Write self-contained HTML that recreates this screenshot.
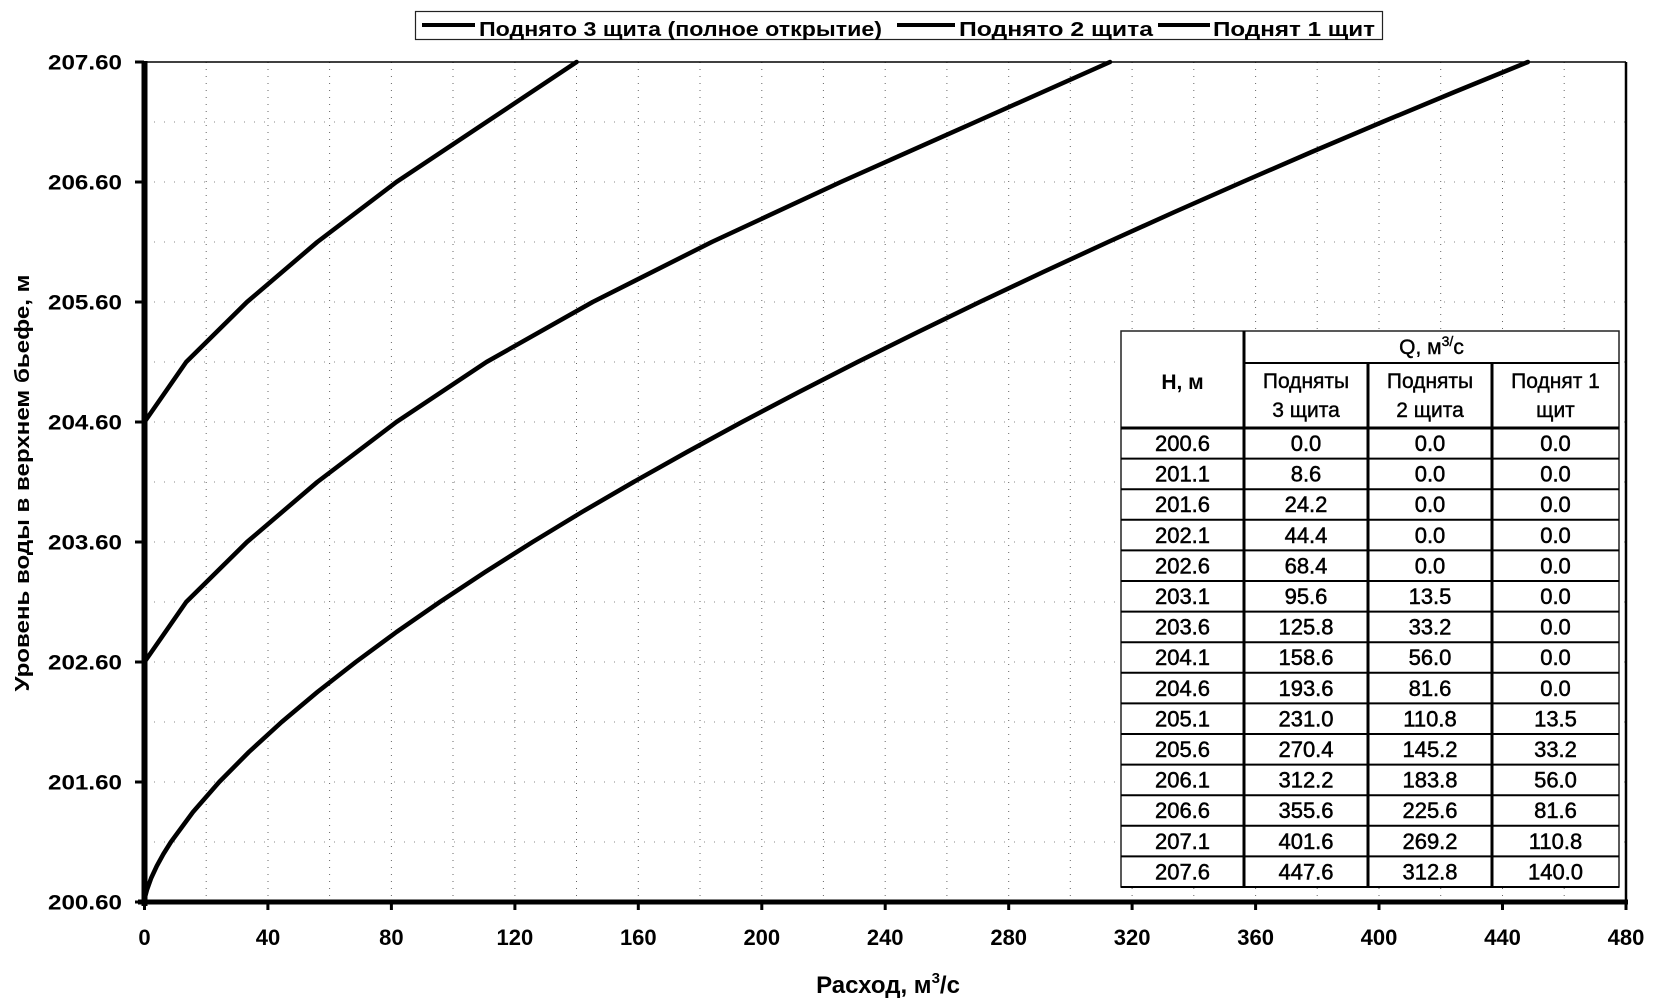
<!DOCTYPE html>
<html><head><meta charset="utf-8"><style>
html,body{margin:0;padding:0;background:#fff;}
svg{display:block;}
text{font-family:"Liberation Sans",Arial,sans-serif;fill:#000;}
.b{font-weight:bold;}
</style></head><body>
<svg width="1654" height="1002" viewBox="0 0 1654 1002" xmlns="http://www.w3.org/2000/svg">
<rect x="0" y="0" width="1654" height="1002" fill="#fff"/>
<!-- gridlines -->
<g stroke="#666" stroke-width="1" stroke-dasharray="1 6" fill="none">
<path d="M206.2 62V902M329.6 62V902M453.0 62V902M576.5 62V902M700.0 62V902M823.4 62V902M946.9 62V902M1070.3 62V902M1193.8 62V902M1317.2 62V902M1440.7 62V902M1564.2 62V902
M268 62V902M391.4 62V902M514.9 62V902M638.3 62V902M761.8 62V902M885.2 62V902M1008.7 62V902M1132.1 62V902M1255.6 62V902M1379 62V902M1502.5 62V902"/>
</g>
<g stroke="#888" stroke-width="1" stroke-dasharray="1 9" fill="none">
<path d="M144 122H1626M144 182H1626M144 242H1626M144 302H1626M144 362H1626M144 422H1626M144 482H1626M144 542H1626M144 602H1626M144 662H1626M144 722H1626M144 782H1626M144 842H1626"/>
</g>
<!-- series -->
<g stroke="#000" stroke-width="4.5" fill="none" stroke-linejoin="round" stroke-linecap="round">
<polyline points="144.5,902 145.3,896 146.9,890 151.2,878 156.8,866 163.4,854 170.9,842 193.0,812 219.2,782 248.9,752 281.7,722 317.4,692 355.8,662 396.5,632 439.8,602 485.2,572 532.6,542 582.0,512 633.6,482 687.0,452 742.0,422 799.0,392 857.5,362 918.0,332 979.7,302 1043.2,272 1108.1,242 1174.5,212 1242.4,182 1311.6,152 1382.3,122 1454.5,92 1527.9,62"/>
<polyline points="144.5,662 186.2,602 247.0,542 317.3,482 396.4,422 486.5,362 592.7,302 711.8,242 840.8,182 975.4,122 1110.0,62"/>
<polyline points="144.5,422 186.2,362 247.0,302 317.3,242 396.4,182 486.5,122 576.6,62"/>
</g>
<!-- axes -->
<line x1="144" y1="62" x2="1626" y2="62" stroke="#000" stroke-width="1.5"/>
<line x1="1626" y1="62" x2="1626" y2="903" stroke="#000" stroke-width="2.5"/>
<line x1="144.5" y1="61" x2="144.5" y2="906" stroke="#000" stroke-width="6"/>
<line x1="138" y1="902" x2="1628" y2="902" stroke="#000" stroke-width="5"/>
<g stroke="#000" stroke-width="3">
<path d="M135 62H144M135 182H144M135 302H144M135 422H144M135 542H144M135 662H144M135 782H144M135 902H144"/>
<path d="M144.5 902V910M267.9 902V910M391.4 902V910M514.9 902V910M638.3 902V910M761.8 902V910M885.2 902V910M1008.7 902V910M1132.1 902V910M1255.6 902V910M1379 902V910M1502.5 902V910M1626 902V910"/>
</g>
<!-- y labels -->
<g class="b" font-size="21" text-anchor="end">
<text x="122" y="69.5" textLength="74" lengthAdjust="spacingAndGlyphs">207.60</text>
<text x="122" y="189.5" textLength="74" lengthAdjust="spacingAndGlyphs">206.60</text>
<text x="122" y="309.5" textLength="74" lengthAdjust="spacingAndGlyphs">205.60</text>
<text x="122" y="429.5" textLength="74" lengthAdjust="spacingAndGlyphs">204.60</text>
<text x="122" y="549.5" textLength="74" lengthAdjust="spacingAndGlyphs">203.60</text>
<text x="122" y="669.5" textLength="74" lengthAdjust="spacingAndGlyphs">202.60</text>
<text x="122" y="789.5" textLength="74" lengthAdjust="spacingAndGlyphs">201.60</text>
<text x="122" y="909.5" textLength="74" lengthAdjust="spacingAndGlyphs">200.60</text>
</g>
<!-- x labels -->
<g class="b" font-size="22" text-anchor="middle">
<text x="144.5" y="945">0</text>
<text x="268" y="945">40</text>
<text x="391.4" y="945">80</text>
<text x="514.9" y="945">120</text>
<text x="638.3" y="945">160</text>
<text x="761.8" y="945">200</text>
<text x="885.2" y="945">240</text>
<text x="1008.7" y="945">280</text>
<text x="1132.1" y="945">320</text>
<text x="1255.6" y="945">360</text>
<text x="1379" y="945">400</text>
<text x="1502.5" y="945">440</text>
<text x="1626" y="945">480</text>
</g>
<!-- axis titles -->
<text class="b" font-size="24" text-anchor="middle" x="888" y="993">Расход, м<tspan font-size="15" dy="-10">3</tspan><tspan dy="10">/с</tspan></text>
<text class="b" font-size="20" text-anchor="middle" transform="translate(29,483) rotate(-90)" x="0" y="0" textLength="417" lengthAdjust="spacingAndGlyphs">Уровень воды в верхнем бьефе, м</text>
<!-- legend -->
<rect x="415.5" y="11.5" width="967" height="28" fill="#fff" stroke="#222" stroke-width="1.2"/>
<g stroke="#000" stroke-width="4">
<line x1="422" y1="25" x2="475" y2="25"/>
<line x1="897" y1="25" x2="955" y2="25"/>
<line x1="1158" y1="25" x2="1210" y2="25"/>
</g>
<g class="b" font-size="20">
<text x="479" y="36" textLength="403" lengthAdjust="spacingAndGlyphs">Поднято 3 щита (полное открытие)</text>
<text x="959" y="36" textLength="194" lengthAdjust="spacingAndGlyphs">Поднято 2 щита</text>
<text x="1213" y="36" textLength="162" lengthAdjust="spacingAndGlyphs">Поднят 1 щит</text>
</g>
<!-- table -->
<rect x="1121" y="331" width="498" height="556" fill="#fff" stroke="#222" stroke-width="1.5"/>
<g stroke="#000">
<line x1="1244" y1="363" x2="1619" y2="363" stroke-width="2"/>
<line x1="1121" y1="428" x2="1619" y2="428" stroke-width="3"/>
<path stroke-width="2" d="M1121 458.6H1619M1121 489.2H1619M1121 519.8H1619M1121 550.4H1619M1121 581H1619M1121 611.6H1619M1121 642.2H1619M1121 672.8H1619M1121 703.4H1619M1121 734H1619M1121 764.6H1619M1121 795.2H1619M1121 825.8H1619M1121 856.4H1619M1121 887H1619"/>
<line x1="1244" y1="331" x2="1244" y2="887" stroke-width="3"/>
<line x1="1368" y1="363" x2="1368" y2="887" stroke-width="3"/>
<line x1="1492" y1="363" x2="1492" y2="887" stroke-width="3"/>
</g>
<g font-size="21" text-anchor="middle">
<text class="b" x="1182.5" y="389">H, м</text>
<text x="1431.5" y="354" stroke="#000" stroke-width="0.4">Q, м<tspan font-size="14" dy="-8">3/</tspan><tspan dy="8">с</tspan></text>
<g stroke="#000" stroke-width="0.4">
<text x="1306" y="388">Подняты</text><text x="1306" y="417">3 щита</text>
<text x="1430" y="388">Подняты</text><text x="1430" y="417">2 щита</text>
<text x="1555.5" y="388">Поднят 1</text><text x="1555.5" y="417">щит</text>
</g>
</g>
<g font-size="22" text-anchor="middle" stroke="#000" stroke-width="0.5">
<g transform="translate(0,451)">
<text x="1182.5" y="0">200.6</text><text x="1306" y="0">0.0</text><text x="1430" y="0">0.0</text><text x="1555.5" y="0">0.0</text>
<text x="1182.5" y="30.6">201.1</text><text x="1306" y="30.6">8.6</text><text x="1430" y="30.6">0.0</text><text x="1555.5" y="30.6">0.0</text>
<text x="1182.5" y="61.2">201.6</text><text x="1306" y="61.2">24.2</text><text x="1430" y="61.2">0.0</text><text x="1555.5" y="61.2">0.0</text>
<text x="1182.5" y="91.8">202.1</text><text x="1306" y="91.8">44.4</text><text x="1430" y="91.8">0.0</text><text x="1555.5" y="91.8">0.0</text>
<text x="1182.5" y="122.4">202.6</text><text x="1306" y="122.4">68.4</text><text x="1430" y="122.4">0.0</text><text x="1555.5" y="122.4">0.0</text>
<text x="1182.5" y="153">203.1</text><text x="1306" y="153">95.6</text><text x="1430" y="153">13.5</text><text x="1555.5" y="153">0.0</text>
<text x="1182.5" y="183.6">203.6</text><text x="1306" y="183.6">125.8</text><text x="1430" y="183.6">33.2</text><text x="1555.5" y="183.6">0.0</text>
<text x="1182.5" y="214.2">204.1</text><text x="1306" y="214.2">158.6</text><text x="1430" y="214.2">56.0</text><text x="1555.5" y="214.2">0.0</text>
<text x="1182.5" y="244.8">204.6</text><text x="1306" y="244.8">193.6</text><text x="1430" y="244.8">81.6</text><text x="1555.5" y="244.8">0.0</text>
<text x="1182.5" y="275.4">205.1</text><text x="1306" y="275.4">231.0</text><text x="1430" y="275.4">110.8</text><text x="1555.5" y="275.4">13.5</text>
<text x="1182.5" y="306">205.6</text><text x="1306" y="306">270.4</text><text x="1430" y="306">145.2</text><text x="1555.5" y="306">33.2</text>
<text x="1182.5" y="336.6">206.1</text><text x="1306" y="336.6">312.2</text><text x="1430" y="336.6">183.8</text><text x="1555.5" y="336.6">56.0</text>
<text x="1182.5" y="367.2">206.6</text><text x="1306" y="367.2">355.6</text><text x="1430" y="367.2">225.6</text><text x="1555.5" y="367.2">81.6</text>
<text x="1182.5" y="397.8">207.1</text><text x="1306" y="397.8">401.6</text><text x="1430" y="397.8">269.2</text><text x="1555.5" y="397.8">110.8</text>
<text x="1182.5" y="428.4">207.6</text><text x="1306" y="428.4">447.6</text><text x="1430" y="428.4">312.8</text><text x="1555.5" y="428.4">140.0</text>
</g>
</g>
</svg>
</body></html>
